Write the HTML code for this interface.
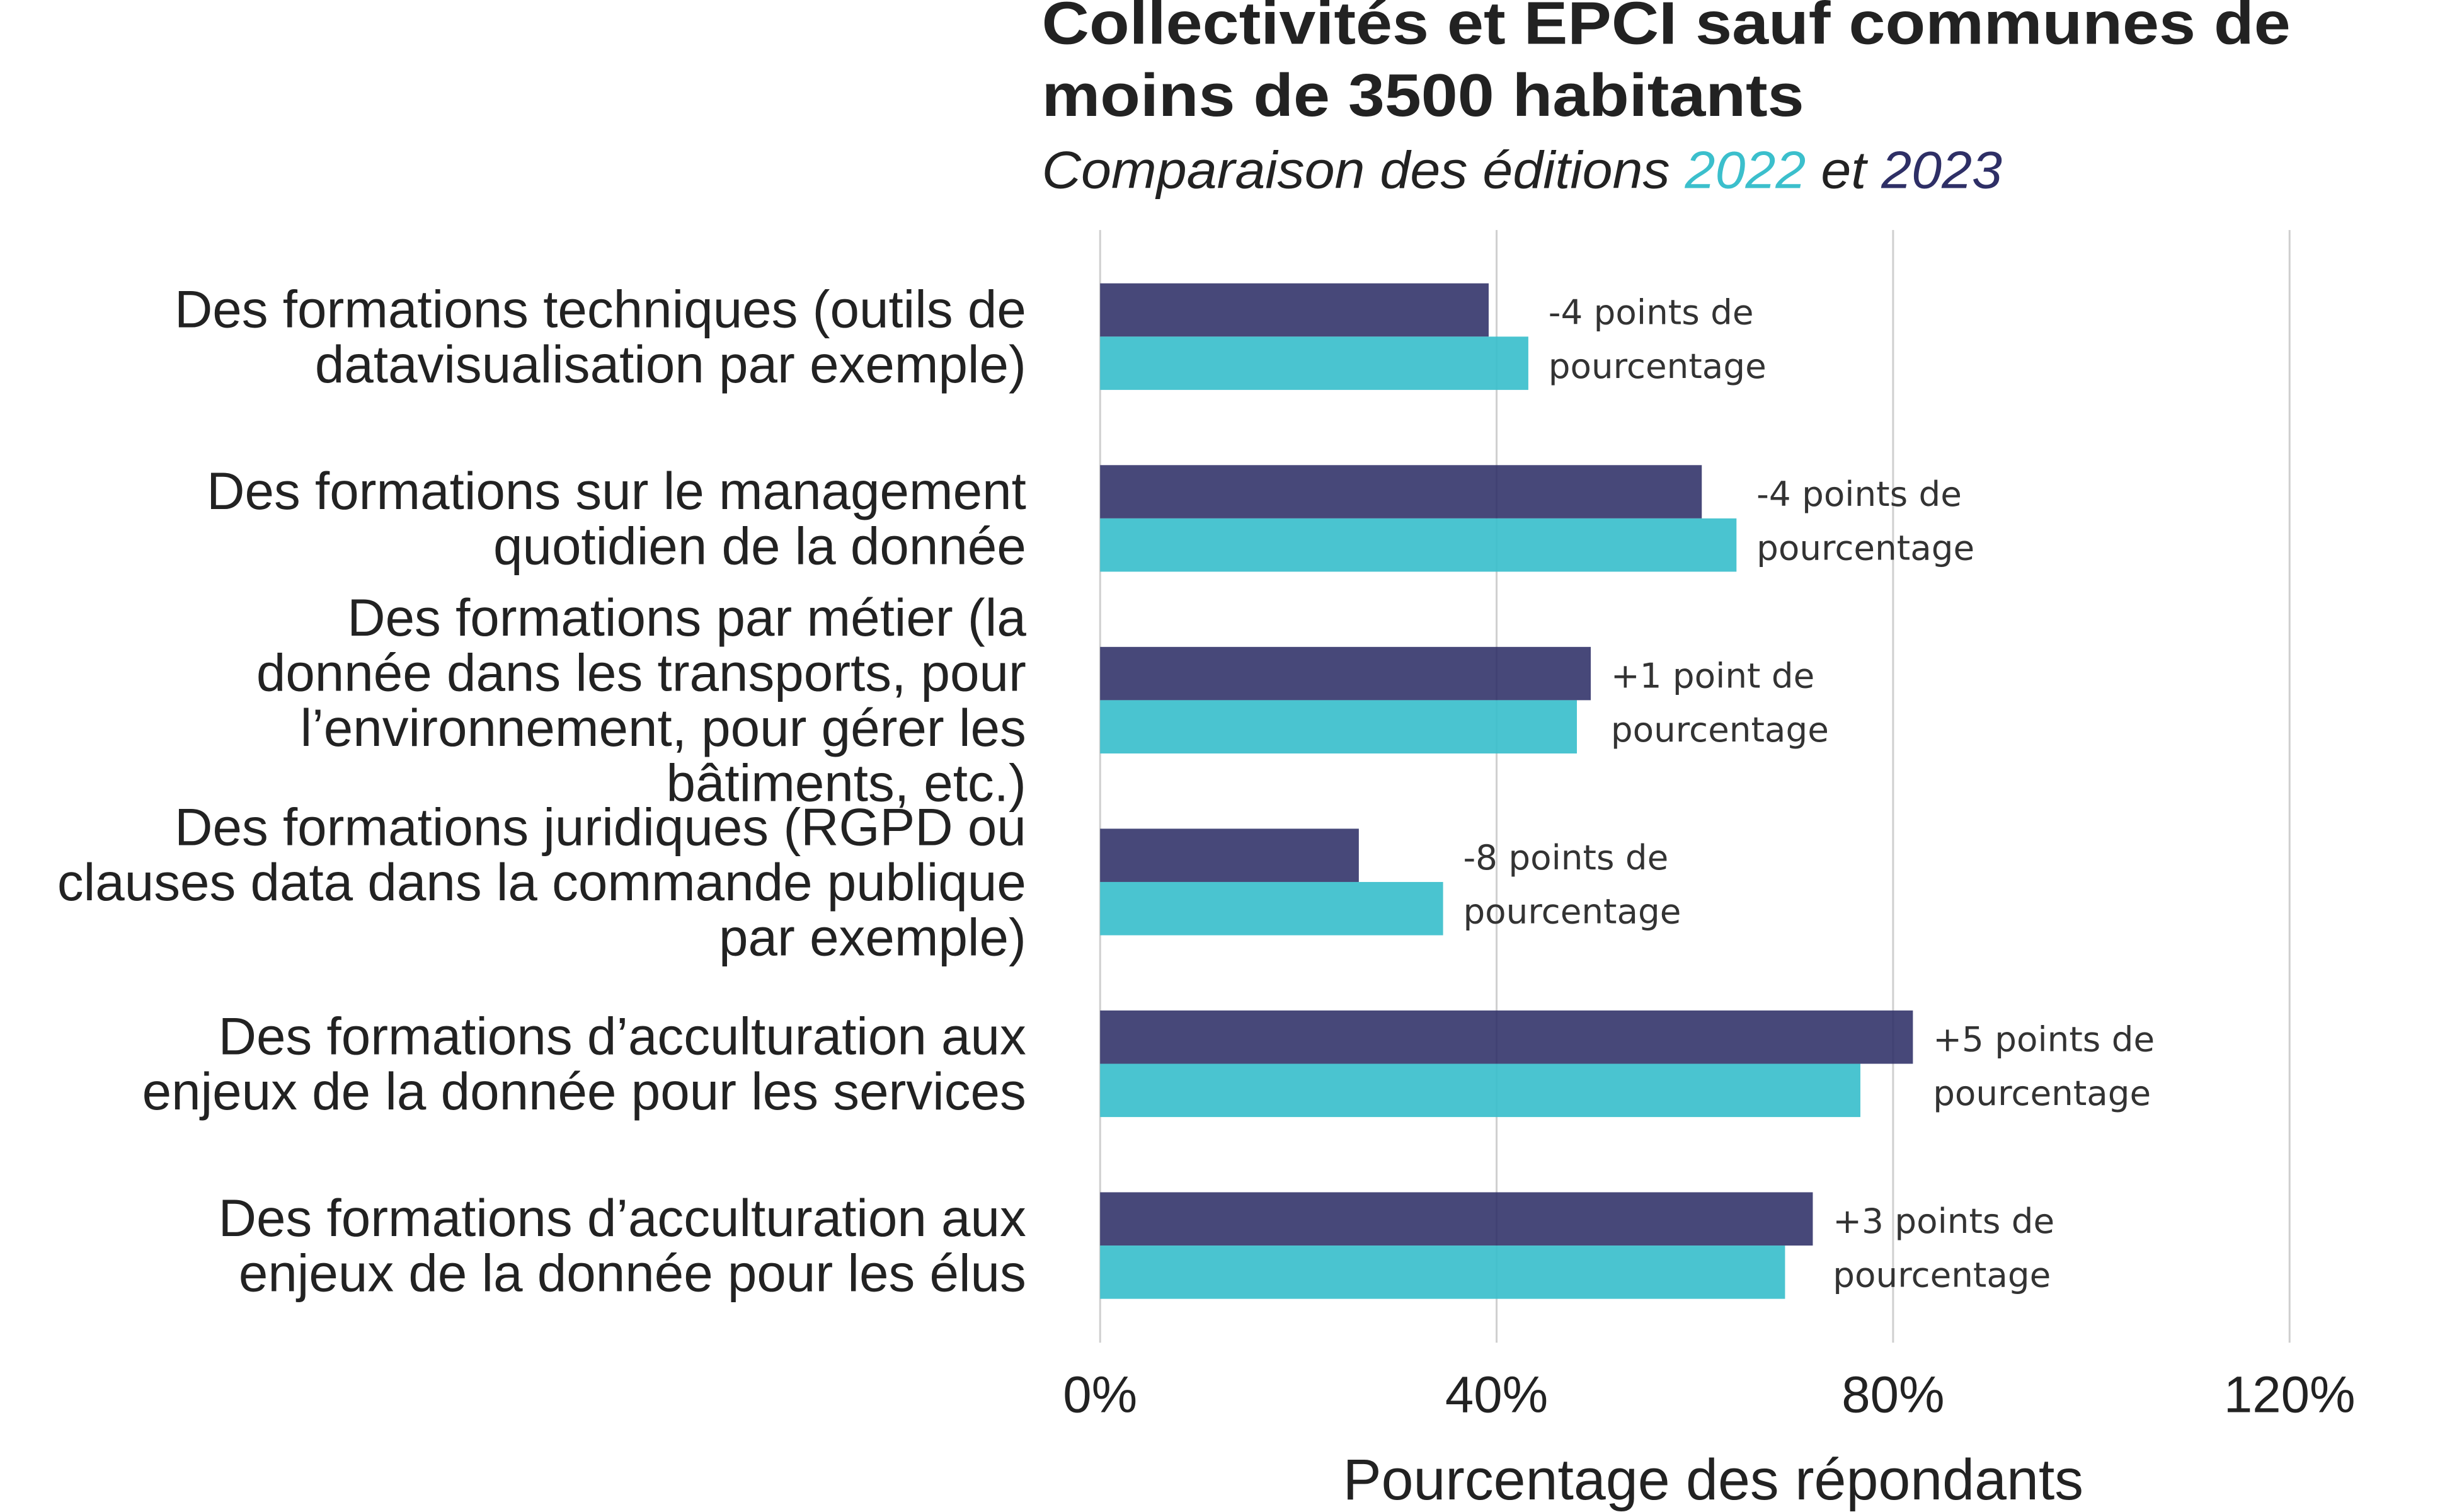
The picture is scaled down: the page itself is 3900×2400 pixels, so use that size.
<!DOCTYPE html>
<html><head><meta charset="utf-8"><style>
html,body{margin:0;padding:0;background:#fff;}
svg{display:block;}
</style></head><body>
<svg id="chart" width="3900" height="2400" xmlns="http://www.w3.org/2000/svg">
<g transform="scale(0.995)">
<text x="1662" y="70" font-family="Liberation Sans, sans-serif" font-weight="bold" font-size="96" fill="#222" textLength="1992" lengthAdjust="spacingAndGlyphs">Collectivités et EPCI sauf communes de</text>
<text x="1662" y="185" font-family="Liberation Sans, sans-serif" font-weight="bold" font-size="96" fill="#222" textLength="1216" lengthAdjust="spacingAndGlyphs">moins de 3500 habitants</text>
<text x="1662" y="300" font-family="Liberation Sans, sans-serif" font-style="italic" font-size="84" fill="#222" textLength="1532" lengthAdjust="spacingAndGlyphs">Comparaison des éditions <tspan fill="#3bbfcc">2022</tspan> et <tspan fill="#2e2f66">2023</tspan></text>
<g id="grid"></g><g id="bars"></g><g id="labels"></g><g id="ticks"></g>
<text x="2733" y="2392" text-anchor="middle" font-family="Liberation Sans, sans-serif" font-size="92" fill="#222">Pourcentage des répondants</text>
</g>
</svg>
<script>
const categories = [
 ["Des formations techniques (outils de","datavisualisation par exemple)"],
 ["Des formations sur le management","quotidien de la donnée"],
 ["Des formations par métier (la","donnée dans les transports, pour","l’environnement, pour gérer les","bâtiments, etc.)"],
 ["Des formations juridiques (RGPD ou","clauses data dans la commande publique","par exemple)"],
 ["Des formations d’acculturation aux","enjeux de la donnée pour les services"],
 ["Des formations d’acculturation aux","enjeux de la donnée pour les élus"]
];
const values2023 = [39.2, 60.7, 49.5, 26.1, 82.0, 71.9];
const values2022 = [43.2, 64.2, 48.1, 34.6, 76.7, 69.1];
const annotations = [
 ["-4 points de","pourcentage"],["-4 points de","pourcentage"],["+1 point de","pourcentage"],
 ["-8 points de","pourcentage"],["+5 points de","pourcentage"],["+3 points de","pourcentage"]
];
const ticks = [0, 40, 80, 120];
const tickLabels = ["0%","40%","80%","120%"];

const NS="http://www.w3.org/2000/svg";
const x = v => 1755 + v/120*1897.5;
const groupCenter = i => 537 + i*290;
const barH = 85;
function mk(tag, attrs, parent){const e=document.createElementNS(NS,tag);for(const k in attrs)e.setAttribute(k,attrs[k]);parent.appendChild(e);return e;}
const grid=document.getElementById('grid'),bars=document.getElementById('bars'),labels=document.getElementById('labels'),tk=document.getElementById('ticks');
ticks.forEach((t,i)=>{
 const l=mk('line',{x1:x(t),x2:x(t),y1:367,y2:2142,stroke:'#cfcfcf','stroke-width':3},grid);
 
 
 const tx=mk('text',{x:x(t),y:2253,'text-anchor':'middle','font-family':'Liberation Sans, sans-serif','font-size':82,fill:'#222'},tk);
 tx.textContent=tickLabels[i];
 
 
});
categories.forEach((cat,i)=>{
 const c=groupCenter(i);
 const b1=mk('rect',{x:x(0),y:c-barH,width:x(values2023[i])-x(0),height:barH,fill:'#2e2f66','fill-opacity':0.88},bars);
 
 
 const b2=mk('rect',{x:x(0),y:c,width:x(values2022[i])-x(0),height:barH,fill:'#3bbfcc','fill-opacity':0.92},bars);
 
 
 const ax=x(Math.max(values2023[i],values2022[i]))+32;
 annotations[i].forEach((s,j)=>{
  const t=mk('text',{x:ax,y:c-20+j*86,'font-family':'DejaVu Sans, sans-serif','font-size':55,fill:'#333'},bars);
  t.textContent=s;
  
  
 });
 const n=cat.length, lh=88;
 cat.forEach((s,j)=>{
  const t=mk('text',{x:1637,y:c+(j-(n-1)/2)*lh+29,'text-anchor':'end','font-family':'Liberation Sans, sans-serif','font-size':84,fill:'#222'},labels);
  t.textContent=s;
  
  
 });
});
</script>
</body></html>
